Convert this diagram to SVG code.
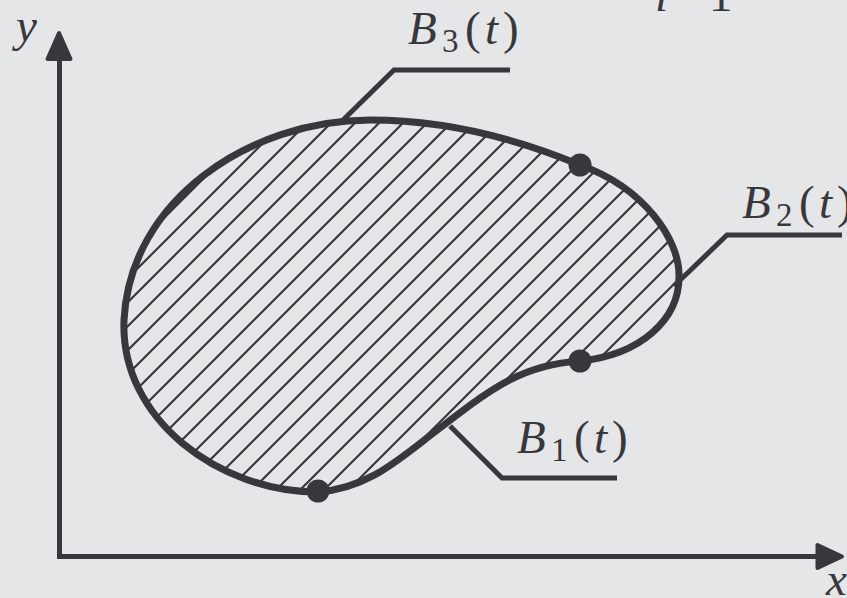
<svg xmlns="http://www.w3.org/2000/svg" width="847" height="598" viewBox="0 0 847 598">
  <defs>
    <style>
      .ink { fill: none; stroke: #38373b; stroke-linecap: butt; }
      .axis { stroke-width: 5; stroke-linejoin: miter; }
      .edge { stroke-width: 7; stroke-linejoin: round; }
      .lead { stroke-width: 5; stroke-linejoin: miter; }
      .head { fill: #38373b; stroke: #38373b; stroke-width: 4; stroke-linejoin: round; }
      .dot { fill: #38373b; }
      .lbl { font-family: "Liberation Serif", "Times New Roman", serif; font-size: 47px; fill: #38373b; }
      .it { font-style: italic; }
      .sub { font-size: 33px; }
    </style>
    <pattern id="hatch" patternUnits="userSpaceOnUse" x="22" y="0" width="24" height="24">
      <path d="M-6,6 L6,-6 M0,24 L24,0 M18,30 L30,18" stroke="#38373b" stroke-width="2.2" fill="none"/>
    </pattern>
  </defs>
  <rect width="847" height="598" fill="#e5e6e8"/>

  <g id="axes">
    <path class="ink axis" d="M59.5,58 L59.5,556.5 L822,556.5"/>
    <polygon class="head" points="59,33 47.5,59 70.5,59"/>
    <polygon class="head" points="842,556.5 817.5,545 817.5,568"/>
    <text class="lbl it" x="16" y="41">y</text>
    <text class="lbl it" x="826" y="595">x</text>
  </g>

  <g id="top-formula">
    <text class="lbl"><tspan class="it" x="655" y="11">i</tspan><tspan x="671" y="11" font-size="54">=</tspan><tspan x="709" y="11">1</tspan></text>
  </g>

  <g id="region">
    <path fill="url(#hatch)" stroke="none" d="M318,492 C370,488 400,458 440,428 C490,390 520,365 580,361 C640,355 680,320 679,275 C679,240 645,188 580,165 C520,140 450,120 370,120 C250,120 130,200 124,320 C120,420 220,492 318,492 Z"/>
    <path class="ink edge" d="M318,492 C370,488 400,458 440,428 C490,390 520,365 580,361"/>
    <path class="ink edge" d="M580,361 C640,355 680,320 679,275 C679,240 645,188 580,165"/>
    <path class="ink edge" d="M580,165 C520,140 450,120 370,120 C250,120 130,200 124,320 C120,420 220,492 318,492"/>
  </g>

  <g id="points">
    <circle class="dot" cx="318" cy="491" r="11.5"/>
    <circle class="dot" cx="580" cy="361" r="11.5"/>
    <circle class="dot" cx="580" cy="165" r="11.5"/>
  </g>

  <g id="connectors">
    <path class="ink lead" d="M341,122 L394,70 L510,70"/>
    <path class="ink lead" d="M674,286 L727,235 L842,235"/>
    <path class="ink lead" d="M450,426 L502,478 L617,478"/>
  </g>

  <g id="label-B3">
    <text class="lbl"><tspan class="it" x="408" y="44">B</tspan><tspan class="sub" x="442" y="52">3</tspan><tspan x="465" y="44">(</tspan><tspan class="it" x="485" y="44">t</tspan><tspan x="503" y="44">)</tspan></text>
  </g>
  <g id="label-B2">
    <text class="lbl"><tspan class="it" x="742" y="218">B</tspan><tspan class="sub" x="776" y="226">2</tspan><tspan x="799" y="218">(</tspan><tspan class="it" x="819" y="218">t</tspan><tspan x="837" y="218">)</tspan></text>
  </g>
  <g id="label-B1">
    <text class="lbl"><tspan class="it" x="517" y="453">B</tspan><tspan class="sub" x="551" y="461">1</tspan><tspan x="574" y="453">(</tspan><tspan class="it" x="594" y="453">t</tspan><tspan x="612" y="453">)</tspan></text>
  </g>
</svg>
